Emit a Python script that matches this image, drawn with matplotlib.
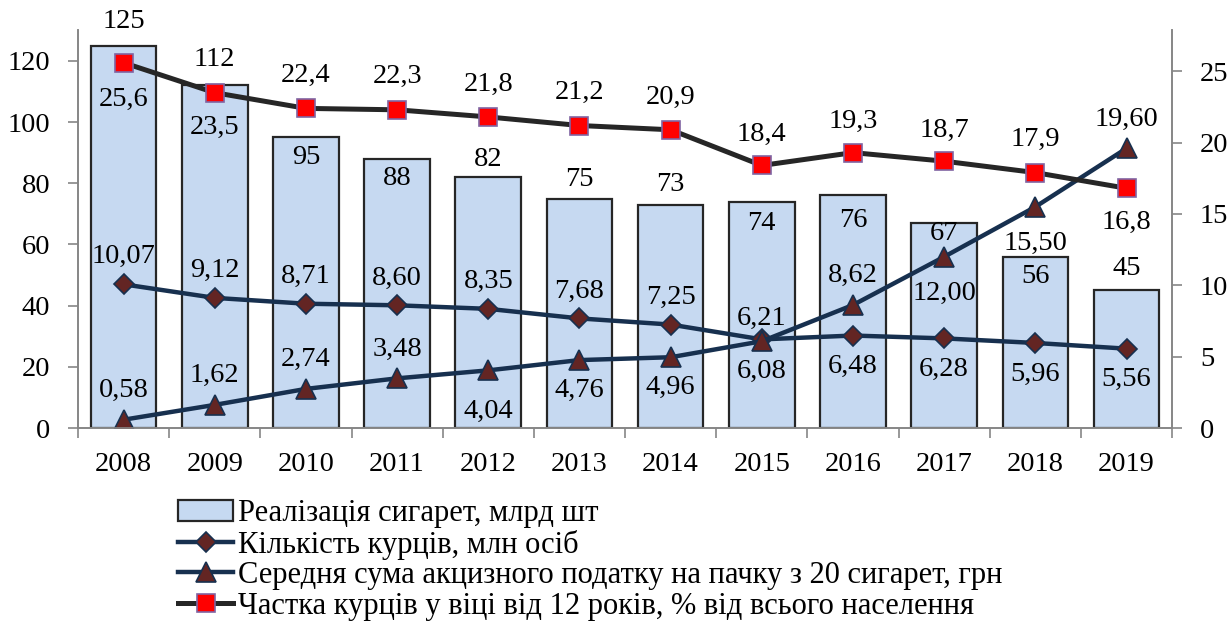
import numpy as np
import matplotlib.pyplot as plt

plt.rcParams['font.family'] = ['Liberation Serif', 'DejaVu Serif']

years = ['2008', '2009', '2010', '2011', '2012', '2013', '2014', '2015', '2016', '2017', '2018', '2019']
sales = [125, 112, 95, 88, 82, 75, 73, 74, 76, 67, 56, 45]
smokers = [10.07, 9.12, 8.71, 8.60, 8.35, 7.68, 7.25, 6.21, 6.48, 6.28, 5.96, 5.56]
excise = [0.58, 1.62, 2.74, 3.48, 4.04, 4.76, 4.96, 6.08, 8.62, 12.00, 15.50, 19.60]
share = [25.6, 23.5, 22.4, 22.3, 21.8, 21.2, 20.9, 18.4, 19.3, 18.7, 17.9, 16.8]

names = ['Реалізація сигарет, млрд шт',
         'Кількість курців, млн осіб',
         'Середня сума акцизного податку на пачку з 20 сигарет, грн',
         'Частка курців у віці від 12 років, % від всього населення']

# label offsets in pixels (placement of value labels)
sales_off = [24, 26, -20, -20, 18, 19, 20, -22, -25, -11, -20, 22]
smokers_off = [28, 27, 27, 27, 27, 27, 27, 21, -31, -31, -31, -31]
excise_off = [29, 29, 29, 29, -41, -30, -30, -30, 30, -37, -37, 29]
share_off = [-37, -35, 33, 33, 33, 33, 32, 31, 31, 31, 33, -34]

fig = plt.figure(figsize=(12.28, 6.23), dpi=100)
ax = fig.add_axes([0.0635, 0.313, 0.891, 0.639])
ax2 = ax.twinx()

x = np.arange(len(years))
fs = 20.5
gray = '#868686'
navy = '#17304f'
brown = '#632523'

bars = ax.bar(x, sales, width=0.72, color='#c6d9f1', edgecolor='#262626', linewidth=1.6,
              label=names[0])
for xi, v, off in zip(x, sales, sales_off):
    ax.annotate(str(v), (xi, v), xytext=(0, off), textcoords='offset pixels',
                ha='center', va='center', fontsize=fs)

l1, = ax2.plot(x, smokers, color=navy, lw=3.2, marker='D', ms=10, mfc=brown, mec=navy,
               mew=1.2, label=names[1])
l2, = ax2.plot(x, excise, color=navy, lw=3.2, marker='^', ms=14, mfc=brown, mec=navy,
               mew=1.2, label=names[2])
l3, = ax2.plot(x, share, color='#262626', lw=3.6, marker='s', ms=13, mfc='#ff0000',
               mec='#8064a2', mew=1.2, label=names[3])

for vals, offs, fmt in [(smokers, smokers_off, '{:.2f}'), (excise, excise_off, '{:.2f}'),
                        (share, share_off, '{:.1f}')]:
    for xi, v, off in zip(x, vals, offs):
        ax2.annotate(fmt.format(v).replace('.', ','), (xi, v), xytext=(0, off),
                     textcoords='offset pixels', ha='center', va='center', fontsize=fs)

ax.set_xlim(-0.5, 11.5)
ax.set_ylim(0, 130.1)
ax2.set_ylim(0, 27.9)
ax.set_yticks(np.arange(0, 121, 20))
ax2.set_yticks(np.arange(0, 26, 5))

ax.set_xticks(x)
ax.set_xticklabels(years, fontsize=fs)
ax.set_xticks(np.arange(-0.5, 12, 1), minor=True)
ax.tick_params(axis='x', which='major', length=0, pad=17)
ax.tick_params(axis='x', which='minor', length=7, color=gray, width=1.2)
ax.tick_params(axis='y', labelsize=fs, length=7, color=gray, width=1.2, pad=13)
ax2.tick_params(axis='y', labelsize=fs, length=7, color=gray, width=1.2, pad=13)

for a in (ax, ax2):
    a.spines['top'].set_visible(False)
    for s in ('left', 'right', 'bottom'):
        a.spines[s].set_color(gray)
        a.spines[s].set_linewidth(1.2)

fig.legend(handles=[bars, l1, l2, l3], loc='upper left', bbox_to_anchor=(0.145, 0.199),
           frameon=False, fontsize=22, handlelength=1.8, handletextpad=0.17,
           labelspacing=0.05, borderpad=0, borderaxespad=0)

fig.savefig('out.png', dpi=100)
